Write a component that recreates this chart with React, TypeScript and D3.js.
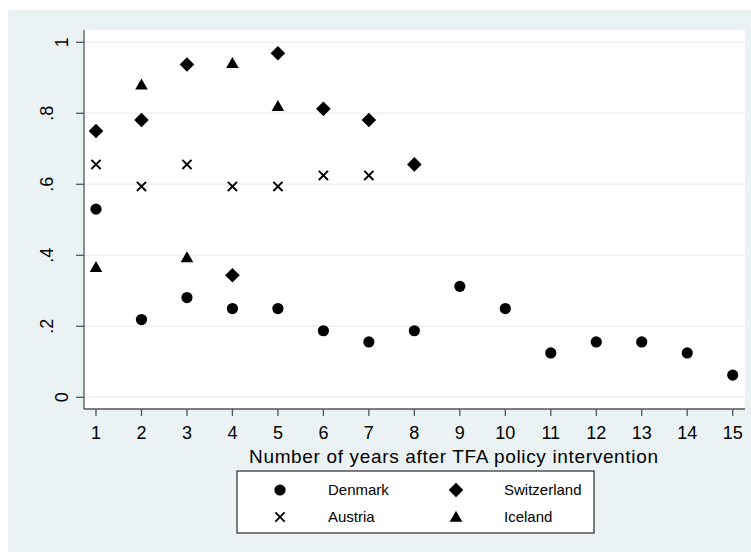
import React from "react";
import * as d3 from "d3";

const years = [1, 2, 3, 4, 5, 6, 7, 8, 9, 10, 11, 12, 13, 14, 15];
const denmark = [0.53, 0.219, 0.281, 0.25, 0.25, 0.1875, 0.156, 0.1875, 0.3125, 0.25, 0.125, 0.156, 0.156, 0.125, 0.0625];
const switzerland = [0.75, 0.781, 0.9375, 0.344, 0.969, 0.8125, 0.781, 0.656];
const austria = [0.656, 0.594, 0.656, 0.594, 0.594, 0.625, 0.625];
const iceland = [0.366, 0.88, 0.394, 0.941, 0.82];
const yTicks = [0, 0.2, 0.4, 0.6, 0.8, 1];
const yTickLabels = ["0", ".2", ".4", ".6", ".8", "1"];
const xLabel = "Number of years after TFA policy intervention";

const FONT = "'Liberation Sans', Arial, Helvetica, sans-serif";

type Shape = "circle" | "diamond" | "x" | "triangle";

function Marker({ shape, x, y }: { shape: Shape; x: number; y: number }) {
  if (shape === "circle") return <circle cx={x} cy={y} r={5.6} fill="#000" />;
  if (shape === "diamond") {
    const d = 7.3;
    return <path d={`M${x},${y - d} L${x + d},${y} L${x},${y + d} L${x - d},${y} Z`} fill="#000" />;
  }
  if (shape === "triangle") {
    return <path d={`M${x},${y - 6.3} L${x + 6.3},${y + 4.7} L${x - 6.3},${y + 4.7} Z`} fill="#000" />;
  }
  const a = 4.6;
  return (
    <path
      d={`M${x - a},${y - a} L${x + a},${y + a} M${x - a},${y + a} L${x + a},${y - a}`}
      stroke="#000"
      strokeWidth={1.9}
      fill="none"
    />
  );
}

export default function App() {
  const W = 751, H = 552;
  const plotL = 84, plotR = 745, plotT = 30, plotB = 409;
  const x = d3.scaleLinear().domain([1, 15]).range([96, 732.7]);
  const y = d3.scaleLinear().domain([0, 1]).range([397.3, 42.3]);

  const series: { name: string; vals: number[]; shape: Shape }[] = [
    { name: "Denmark", vals: denmark, shape: "circle" },
    { name: "Switzerland", vals: switzerland, shape: "diamond" },
    { name: "Austria", vals: austria, shape: "x" },
    { name: "Iceland", vals: iceland, shape: "triangle" },
  ];

  const legend = [
    { s: series[0], lx: 280, ly: 490 },
    { s: series[1], lx: 456, ly: 490 },
    { s: series[2], lx: 280, ly: 517 },
    { s: series[3], lx: 456, ly: 517 },
  ];

  return (
    <svg width={W} height={H} style={{ position: "absolute", left: 0, top: 0 }} fontFamily={FONT}>
      <rect x={8} y={10} width={W - 8} height={H - 10} fill="#EAF2F3" />
      <rect x={plotL} y={plotT} width={plotR - plotL} height={plotB - plotT} fill="#fff" />
      {yTicks.map((t) => (
        <line key={"g" + t} x1={plotL} x2={plotR} y1={y(t)} y2={y(t)} stroke="#EAF2F3" strokeWidth={1.5} />
      ))}
      <line x1={plotL} x2={plotL} y1={plotT} y2={plotB} stroke="#555" strokeWidth={1.3} />
      <line x1={plotL} x2={plotR} y1={plotB} y2={plotB} stroke="#555" strokeWidth={1.3} />
      {yTicks.map((t, i) => (
        <g key={"y" + t}>
          <line x1={plotL - 8} x2={plotL} y1={y(t)} y2={y(t)} stroke="#555" strokeWidth={1.3} />
          <text
            transform={`translate(${yTickLabels[i].startsWith(".") ? 53 : 68},${y(t)}) rotate(-90)`}
            textAnchor="middle"
            fontSize={18}
            fill="#000"
          >
            {yTickLabels[i]}
          </text>
        </g>
      ))}
      {years.map((t) => (
        <g key={"x" + t}>
          <line x1={x(t)} x2={x(t)} y1={plotB} y2={plotB + 7} stroke="#555" strokeWidth={1.3} />
          <text x={x(t)} y={439} textAnchor="middle" fontSize={18} fill="#000">
            {t}
          </text>
        </g>
      ))}
      <text
        x={453.5}
        y={463}
        textAnchor="middle"
        fontSize={19}
        textLength={409}
        lengthAdjust="spacing"
        fill="#000"
      >
        {xLabel}
      </text>
      {series.map((s) =>
        s.vals.map((v, i) => <Marker key={s.name + i} shape={s.shape} x={x(years[i])} y={y(v)} />)
      )}
      <rect x={237} y={471} width={357} height={62} fill="#fff" stroke="#000" strokeWidth={1} />
      {legend.map((l) => (
        <g key={"l" + l.s.name}>
          <Marker shape={l.s.shape} x={l.lx} y={l.ly} />
          <text x={l.lx + 48} y={l.ly + 5} fontSize={15} fill="#000">
            {l.s.name}
          </text>
        </g>
      ))}
    </svg>
  );
}
